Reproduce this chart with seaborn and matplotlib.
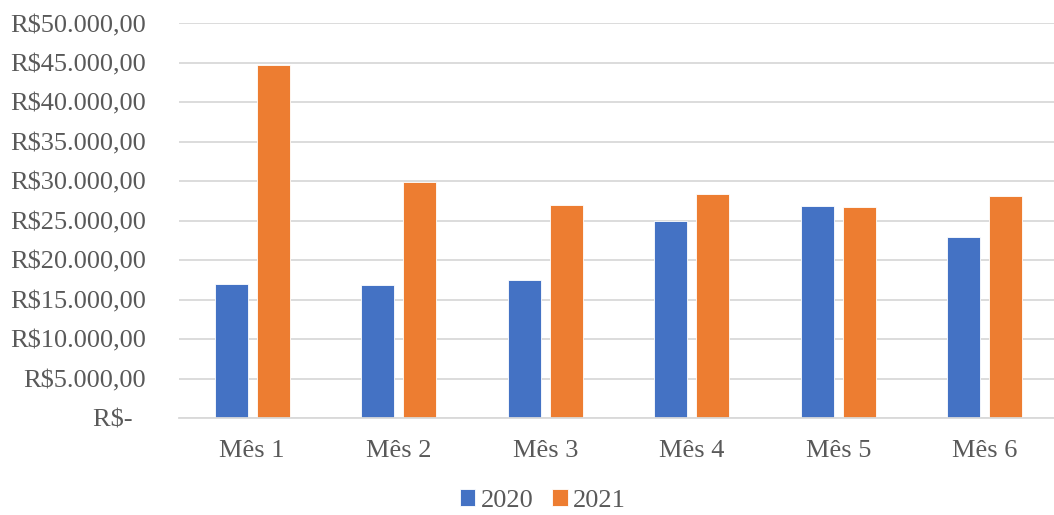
import matplotlib
matplotlib.use("Agg")
import matplotlib.pyplot as plt
import seaborn as sns
import pandas as pd
from matplotlib.ticker import FixedLocator, FuncFormatter

months = ["Mês 1", "Mês 2", "Mês 3", "Mês 4", "Mês 5", "Mês 6"]
years = ["2020", "2021"]
values_2020 = [17000, 16800, 17500, 25000, 26900, 22900]
values_2021 = [44700, 29950, 27000, 28400, 26750, 28100]
colors = ["#4472C4", "#ED7D31"]

df = pd.DataFrame({
    "Mês": months * 2,
    "Ano": [years[0]] * len(months) + [years[1]] * len(months),
    "Valor": values_2020 + values_2021,
})

sns.set_theme(style="white")
plt.rcParams["font.family"] = ["Liberation Serif", "DejaVu Serif"]

fig = plt.figure(figsize=(10.54, 5.15), dpi=100)
ax = fig.add_axes([0.1698, 0.1883, 0.834, 0.7661])

sns.barplot(data=df, x="Mês", y="Valor", hue="Ano", palette=colors,
            width=0.573, gap=0.214, ax=ax, errorbar=None,
            edgecolor="white", linewidth=0.6, saturation=1, legend=True)

ax.set_ylim(0, 50000)
ax.set_xlim(-0.5, 5.5)
ax.yaxis.set_major_locator(FixedLocator(list(range(0, 50001, 5000))))

def fmt(v, pos):
    if v == 0:
        return "R$-  "
    s = f"{int(v):,}".replace(",", ".")
    return f"R${s},00"

ax.yaxis.set_major_formatter(FuncFormatter(fmt))
ax.grid(axis="y", color="#d9d9d9", linewidth=1.3)
ax.set_axisbelow(True)
for s in ["top", "right", "left"]:
    ax.spines[s].set_visible(False)
ax.spines["bottom"].set_color("#d9d9d9")
ax.spines["bottom"].set_linewidth(1.3)
ax.tick_params(axis="y", length=0, pad=24, labelsize=19, labelcolor="#595959")
ax.tick_params(axis="x", length=0, pad=16, labelsize=19, labelcolor="#595959")
ax.set_xlabel("")
ax.set_ylabel("")

handles, labels = ax.get_legend_handles_labels()
ax.get_legend().remove()
fig.legend(handles, labels, loc="lower center", bbox_to_anchor=(0.515, -0.04),
           ncol=2, frameon=False, fontsize=19, labelcolor="#595959",
           handlelength=0.6, handleheight=0.6, handletextpad=0.2,
           columnspacing=0.7)

fig.savefig("out.png", dpi=100)
